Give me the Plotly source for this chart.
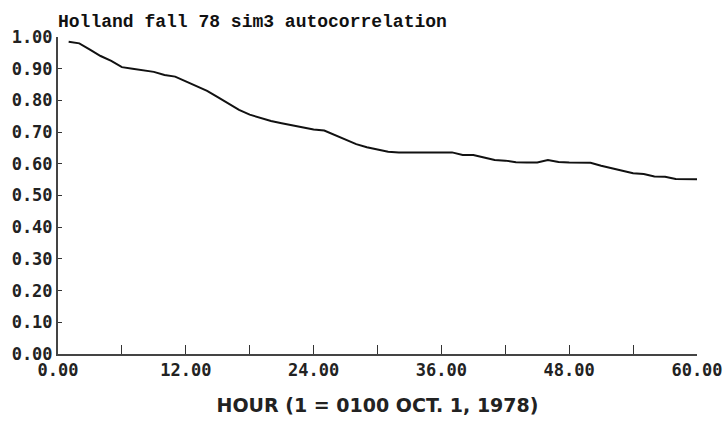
import plotly.graph_objects as go

hours = list(range(1, 61))
autocorr = [0.985, 0.980, 0.960, 0.940, 0.925, 0.905, 0.900, 0.895, 0.890, 0.880,
            0.875, 0.860, 0.845, 0.830, 0.810, 0.790, 0.770, 0.755, 0.745, 0.735,
            0.728, 0.722, 0.715, 0.708, 0.705, 0.690, 0.675, 0.662, 0.652, 0.644,
            0.638, 0.636, 0.636, 0.636, 0.636, 0.636, 0.636, 0.628, 0.628, 0.620,
            0.612, 0.610, 0.605, 0.604, 0.604, 0.612, 0.606, 0.604, 0.604, 0.603,
            0.594, 0.585, 0.578, 0.570, 0.568, 0.560, 0.559, 0.552, 0.551, 0.551]

x_tickvals = [0, 6, 12, 18, 24, 30, 36, 42, 48, 54, 60]
x_ticktext = ["0.00", "", "12.00", "", "24.00", "", "36.00", "", "48.00", "", "60.00"]
y_tickvals = [0.0, 0.1, 0.2, 0.3, 0.4, 0.5, 0.6, 0.7, 0.8, 0.9, 1.0]
y_ticktext = ["0.00", "0.10", "0.20", "0.30", "0.40", "0.50", "0.60", "0.70", "0.80", "0.90", "1.00"]

title_text = "Holland fall 78 sim3 autocorrelation"
x_title = "HOUR (1 = 0100 OCT. 1, 1978)"

fig = go.Figure()
fig.add_trace(go.Scatter(x=hours, y=autocorr, mode="lines",
                         line=dict(color="#111111", width=2, shape="linear"),
                         showlegend=False, hoverinfo="skip"))

tick_font = dict(family="DejaVu Sans Mono", size=17, color="#222222", weight="bold")

fig.update_layout(
    width=726, height=424,
    margin=dict(l=58, r=29, t=37, b=70),
    paper_bgcolor="white", plot_bgcolor="white",
    title=dict(text="<b>" + title_text + "</b>", x=58 / 726, xanchor="left",
               y=1 - 21 / 424, yanchor="middle",
               font=dict(family="Liberation Mono", size=18, color="#111111")),
    xaxis=dict(range=[0, 60], tickvals=x_tickvals, ticktext=x_ticktext,
               ticks="inside", ticklen=9, tickwidth=1, tickcolor="#333333",
               showline=True, linecolor="#444444", linewidth=2,
               showgrid=False, zeroline=False, automargin=False,
               tickfont=tick_font,
               title=dict(text="<b>" + x_title + "</b>", standoff=19,
                          font=dict(family="DejaVu Sans", size=19, color="#222222"))),
    yaxis=dict(range=[0, 1], tickvals=y_tickvals, ticktext=y_ticktext,
               ticks="inside", ticklen=4, tickwidth=1, tickcolor="#333333",
               showline=True, linecolor="#444444", linewidth=2,
               showgrid=False, zeroline=False, automargin=False,
               tickfont=tick_font),
)

fig.write_html("out.html", config={"displayModeBar": False},
               post_script="document.body.style.margin='0';document.body.style.overflow='hidden';")
